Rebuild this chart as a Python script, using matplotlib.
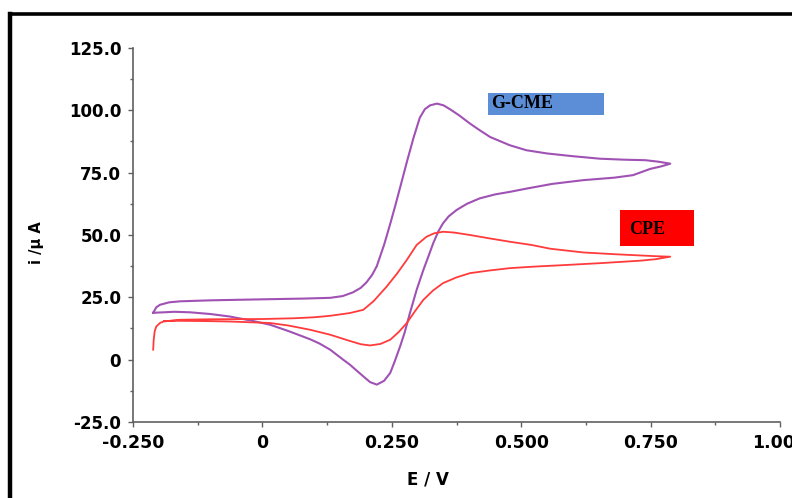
import matplotlib
matplotlib.use("Agg")
import matplotlib.pyplot as plt
from matplotlib.patches import Rectangle
from matplotlib.lines import Line2D

# CV curves (E in V, i in uA)
gcme_E = [-0.211, -0.205, -0.198, -0.18, -0.159, -0.10, 0.0, 0.08, 0.131, 0.155, 0.175,
          0.19, 0.201, 0.212, 0.221, 0.235, 0.247, 0.257, 0.266, 0.28, 0.292, 0.304,
          0.314, 0.324, 0.337, 0.35, 0.362, 0.38, 0.401, 0.42, 0.44, 0.478, 0.51, 0.55,
          0.60, 0.652, 0.70, 0.74, 0.765, 0.788,
          0.77, 0.749, 0.716, 0.68, 0.62, 0.56, 0.51, 0.478, 0.45, 0.42, 0.395, 0.375,
          0.36, 0.349, 0.34, 0.33, 0.32, 0.311, 0.298, 0.285, 0.275, 0.266, 0.256,
          0.247, 0.235, 0.221, 0.208, 0.195, 0.18, 0.169, 0.156, 0.131, 0.11, 0.092,
          0.05, 0.015, -0.02, -0.063, -0.10, -0.14, -0.17, -0.19, -0.211]
gcme_i = [18.8, 21.0, 22.0, 23.0, 23.4, 23.8, 24.2, 24.5, 24.8, 25.5, 27.0,
          28.8, 31.0, 34.0, 37.5, 46.0, 54.5, 62.0, 69.0, 80.0, 89.0, 97.0,
          100.5, 102.0, 102.7, 102.0, 100.5, 98.0, 94.7, 92.0, 89.3, 86.0, 84.0, 82.7,
          81.6, 80.6, 80.2, 80.0, 79.4, 78.6,
          77.5, 76.5, 74.0, 73.0, 72.0, 70.5, 68.6, 67.3, 66.3, 64.7, 62.5, 60.0,
          57.5, 54.7, 51.5, 46.7, 41.0, 36.0, 28.0, 18.7, 11.0, 5.3, -0.5,
          -5.3, -8.5, -10.0, -9.0, -6.7, -4.0, -2.0, 0.0, 4.0, 6.5, 8.2,
          11.5, 14.0, 15.6, 17.3, 18.3, 19.0, 19.2, 19.0, 18.8]

cpe_E = [-0.211, -0.21, -0.208, -0.205, -0.198, -0.191, -0.16, -0.10, 0.0, 0.06, 0.10,
         0.131, 0.169, 0.195, 0.215, 0.24, 0.26, 0.279, 0.298, 0.317, 0.332, 0.349,
         0.37, 0.401, 0.44, 0.478, 0.52, 0.556, 0.62, 0.68, 0.73, 0.76, 0.788,
         0.76, 0.73, 0.652, 0.58, 0.523, 0.478, 0.44, 0.401, 0.375, 0.349, 0.33, 0.311,
         0.295, 0.279, 0.263, 0.247, 0.228, 0.208, 0.19, 0.169, 0.131, 0.092, 0.05,
         0.015, -0.063, -0.12, -0.17, -0.19]
cpe_i = [4.0, 8.0, 11.5, 13.3, 14.7, 15.3, 16.0, 16.2, 16.3, 16.6, 17.0,
         17.6, 18.7, 20.0, 23.5, 29.3, 34.5, 40.0, 46.0, 49.3, 50.7, 51.3,
         51.0, 50.0, 48.6, 47.3, 46.0, 44.5, 43.0, 42.3, 41.8, 41.5, 41.3,
         40.3, 39.7, 38.7, 37.9, 37.3, 36.7, 35.8, 34.7, 33.0, 30.7, 27.8, 24.0,
         19.5, 14.7, 11.0, 8.0, 6.3, 5.7, 6.2, 7.5, 10.0, 12.0, 13.7,
         14.7, 15.3, 15.5, 15.6, 15.5]

xticks = [-0.25, 0.0, 0.25, 0.5, 0.75, 1.0]
xlabels = ["-0.250", "0", "0.250", "0.500", "0.750", "1.000"]
yticks = [-25, 0, 25, 50, 75, 100, 125]
ylabels = ["-25.0", "0", "25.0", "50.0", "75.0", "100.0", "125.0"]

W, H = 792, 498
fig = plt.figure(figsize=(W / 100, H / 100), dpi=100)
ax = fig.add_axes([133 / W, 1 - 422 / H, (780 - 133) / W, (422 - 48) / H])

ax.plot(gcme_E, gcme_i, color="#A052B4", lw=1.5)
ax.plot(cpe_E, cpe_i, color="#FF3B3B", lw=1.3)

ax.set_xlim(-0.25, 1.0)
ax.set_ylim(-25, 125)
ax.set_xticks(xticks)
ax.set_xticklabels(xlabels, fontsize=12.5, fontweight="bold")
ax.set_yticks(yticks)
ax.set_yticklabels(ylabels, fontsize=12, fontweight="bold")
ax.set_xticks([-0.125, 0.125, 0.375, 0.625, 0.875], minor=True)
ax.set_yticks([-12.5, 12.5, 37.5, 62.5, 87.5, 112.5], minor=True)
ax.tick_params(which="major", direction="out", length=3.5, width=1.0, color="#606060", pad=5)
ax.tick_params(which="minor", direction="out", length=2.5, width=1.0, color="#606060")
for s in ["top", "right"]:
    ax.spines[s].set_visible(False)
for s in ["left", "bottom"]:
    ax.spines[s].set_color("#606060")
    ax.spines[s].set_linewidth(1.2)

# axis titles
fig.text(36 / W, 1 - 243 / H, "i /μ A", rotation=90, ha="center", va="center",
         fontsize=10.5, fontweight="bold")
fig.text(428 / W, 1 - 479 / H, "E / V", ha="center", va="center",
         fontsize=12, fontweight="bold")

# label boxes
fig.add_artist(Rectangle((488 / W, 1 - 115 / H), 116 / W, 22 / H,
                         transform=fig.transFigure, facecolor="#5B8ED6", edgecolor="none"))
fig.text(491 / W, 1 - 104 / H, "G-CME", ha="left", va="center", fontsize=13,
         fontweight="bold", family="Liberation Serif")
fig.add_artist(Rectangle((620 / W, 1 - 246 / H), 74 / W, 36 / H,
                         transform=fig.transFigure, facecolor="#FF0000", edgecolor="none"))
fig.text(629 / W, 1 - 230 / H, "CPE", ha="left", va="center", fontsize=13,
         fontweight="bold", family="Liberation Serif")

# black frame (left and top edges visible)
fig.add_artist(Line2D([10 / W, 10 / W], [0, 1 - 14 / H], transform=fig.transFigure,
                      color="black", lw=3.2, solid_capstyle="projecting"))
fig.add_artist(Line2D([10 / W, 1], [1 - 14 / H, 1 - 14 / H], transform=fig.transFigure,
                      color="black", lw=2.6, solid_capstyle="projecting"))

fig.savefig("out.png", dpi=100)
